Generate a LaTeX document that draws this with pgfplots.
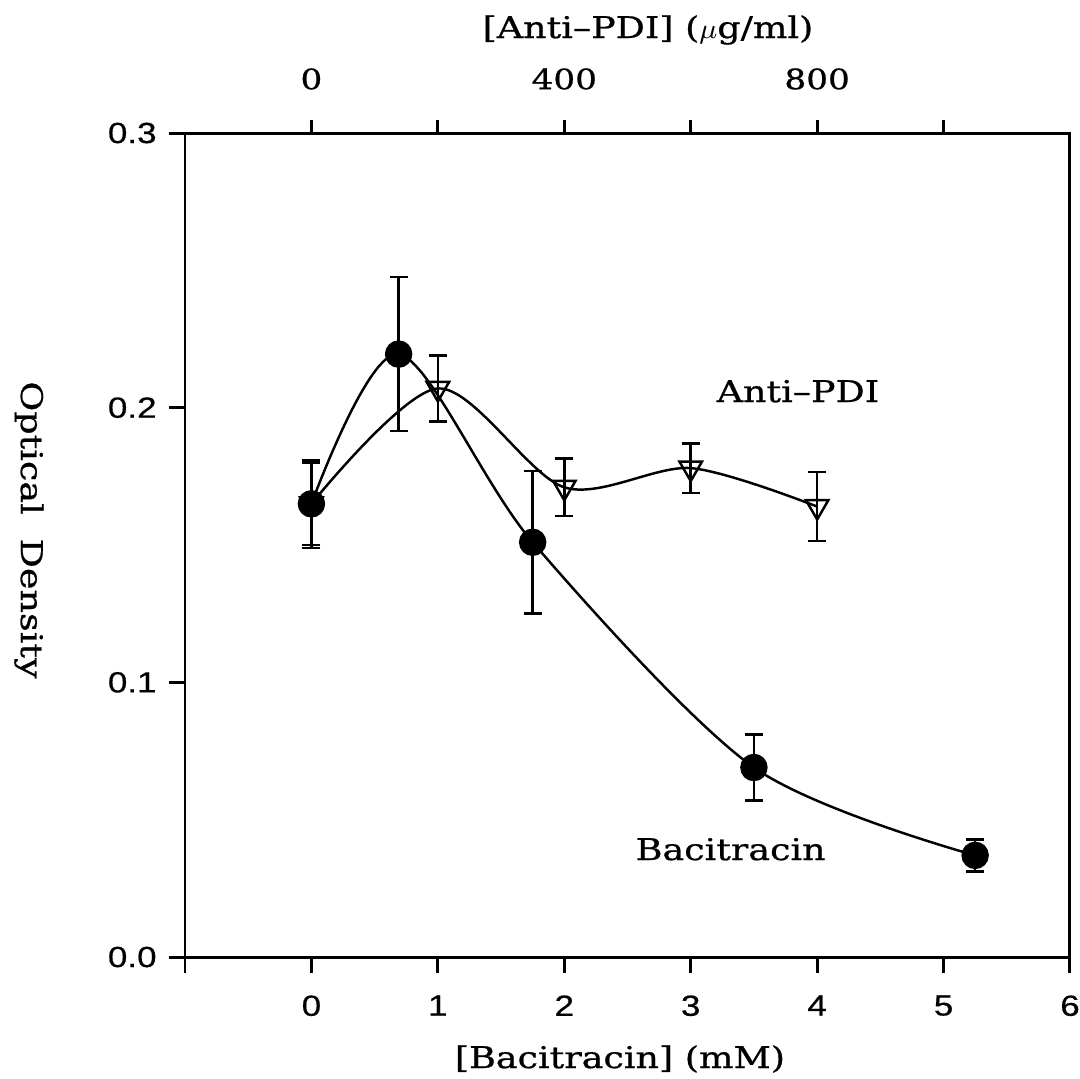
\documentclass[border=0pt]{standalone}
\usepackage{pgfplots}
\pgfplotsset{compat=1.18}
\usepackage{fontspec}
\setmainfont{DejaVu Serif}[FakeStretch=1.22]
\newfontfamily\labfont{DejaVu Serif}[FakeStretch=1.22, FakeBold=0.8]
\newfontfamily\tickfont{Liberation Sans}[FakeStretch=1.2, FakeBold=0.5]

\begin{document}
\begin{tikzpicture}
\useasboundingbox (-1.85,-1.21) rectangle (8.95,9.57);
\begin{axis}[
  at={(0,0)}, anchor=south west,
  scale only axis, width=8.85cm, height=8.24cm,
  xmin=-1, xmax=6, ymin=0, ymax=0.3,
  xtick={-1,0,...,6}, xticklabels={,0,1,2,3,4,5,6},
  ytick={0,0.1,0.2,0.3},
  yticklabel style={/pgf/number format/.cd, fixed, fixed zerofill, precision=1},
  xticklabel style={yshift=-0.1cm},
  xtick pos=bottom, ytick pos=left,
  tick align=outside,
  major tick length=0.16cm,
  axis line style={line width=0.85pt},
  every tick/.style={line width=0.85pt, black},
  ticklabel style={font=\tickfont\fontsize{8.3}{10}\selectfont},
  /pgf/number format/assume math mode=true,
  clip=false,
]
\addplot[black, line width=0.7pt, smooth, mark=*, mark size=0.125cm,
  mark options={solid, fill=black},
  error bars/.cd, y dir=both, y explicit,
  error bar style={line width=0.7pt},
  error mark options={rotate=90, mark size=0.09cm, line width=0.7pt}]
coordinates {
(0,0.165) +- (0,0.016)
(0.69,0.2195) +- (0,0.028)
(1.75,0.151) +- (0,0.026)
(3.5,0.069) +- (0,0.012)
(5.25,0.037) +- (0,0.0058)
};
\end{axis}
\begin{axis}[
  at={(0,0)}, anchor=south west,
  scale only axis, width=8.85cm, height=8.24cm,
  xmin=-200, xmax=1200, ymin=0, ymax=0.3,
  axis x line*=top, axis y line=none, ytick=\empty,
  xtick={0,200,...,1000}, xticklabels={0,,400,,800,},
  tick align=outside,
  major tick length=0.13cm,
  axis line style={line width=0.85pt},
  every tick/.style={line width=0.85pt, black},
  xticklabel style={font=\labfont\fontsize{8}{10}\selectfont, yshift=0.18cm},
  clip=false,
]
\addplot[black, line width=0.7pt, smooth, mark=triangle, mark size=0.13cm,
  mark options={solid, rotate=180, line width=0.7pt},
  error bars/.cd, y dir=both, y explicit,
  error bar style={line width=0.7pt},
  error mark options={rotate=90, mark size=0.09cm, line width=0.7pt}]
coordinates {
(0,0.165) +- (0,0.015)
(200,0.207) +- (0,0.012)
(400,0.171) +- (0,0.0105)
(600,0.178) +- (0,0.009)
(800,0.164) +- (0,0.0125)
};
\end{axis}
\node[anchor=base, font=\labfont\fontsize{8.5}{10}\selectfont] at (4.35,-1.11) {[Bacitracin] (mM)};
\node[anchor=base, font=\labfont\fontsize{8.5}{10}\selectfont] at (4.63,9.19) {[Anti\textendash PDI] ($\mu$g/ml)};
\node[anchor=base west, inner sep=0pt, font=\labfont\fontsize{8.5}{10}\selectfont] at (5.31,5.55) {Anti\textendash PDI};
\node[anchor=base west, inner sep=0pt, font=\labfont\fontsize{8.5}{10}\selectfont] at (4.50,0.97) {Bacitracin};
\node[rotate=-90, anchor=center, font=\labfont\fontsize{8.5}{10}\selectfont] at (-1.56,4.27) {Optical\hspace{0.24cm}Density};
\end{tikzpicture}
\end{document}
